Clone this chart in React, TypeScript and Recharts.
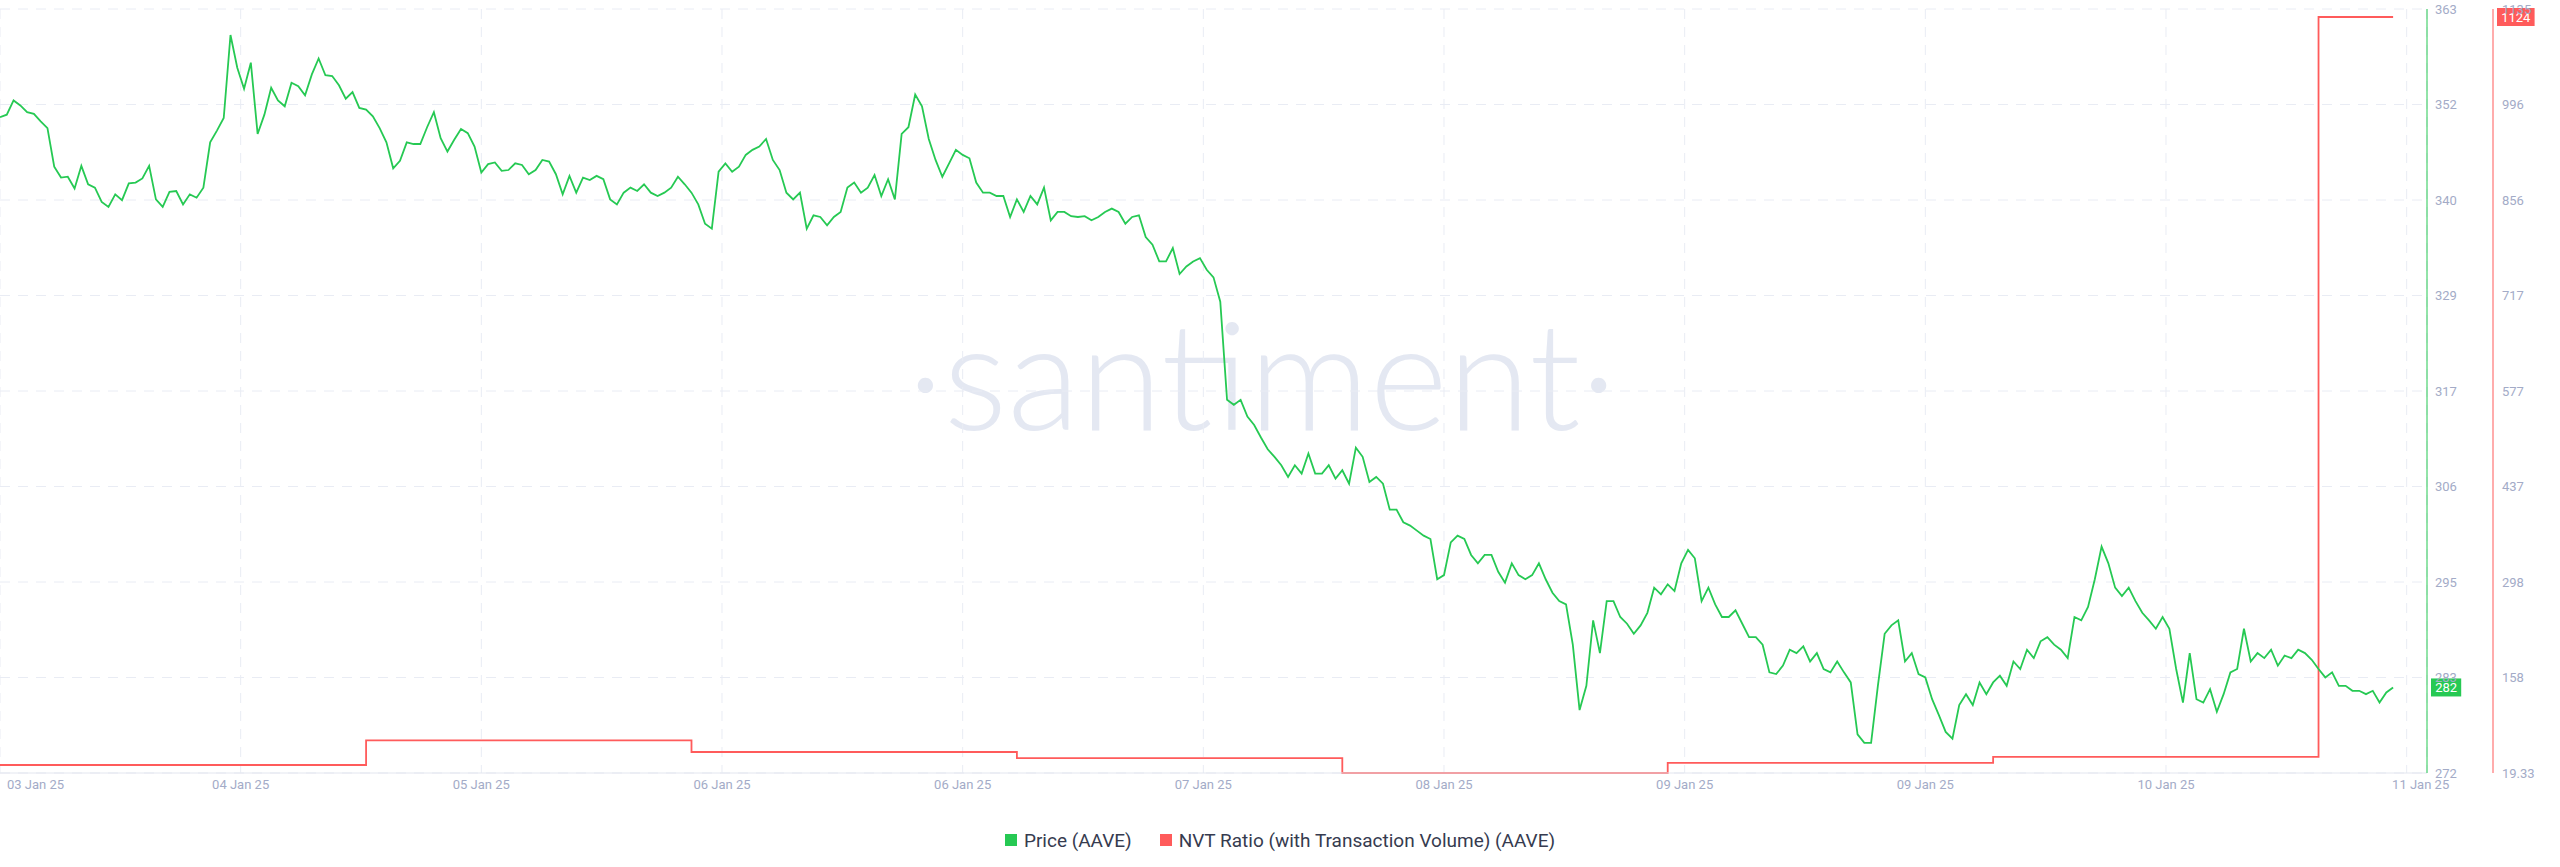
import React from "react"
import {
  CartesianGrid,
  Legend,
  Line,
  LineChart,
  ReferenceLine,
  XAxis,
  YAxis,
} from "recharts"

// hours since 03 Jan 21:00, one price sample every half hour
const priceStepHours = 0.5
const price = [
  350.0, 350.3, 352.0, 351.4, 350.6, 350.4, 349.5, 348.7, 344.1, 342.8,
  342.9, 341.5, 344.2, 342.0, 341.6, 339.9, 339.3, 340.8, 340.1, 342.1,
  342.2, 342.7, 344.2, 340.2, 339.3, 341.1, 341.2, 339.6, 340.8, 340.4,
  341.6, 347.0, 348.4, 349.9, 359.8, 355.9, 353.4, 356.5, 348.0, 350.3,
  353.5, 352.0, 351.3, 354.1, 353.7, 352.6, 355.1, 357.0, 355.0, 354.9,
  353.8, 352.2, 353.0, 351.1, 350.9, 350.1, 348.7, 347.0, 343.9, 344.8,
  347.0, 346.8, 346.8, 348.8, 350.6, 347.5, 345.9, 347.3, 348.6, 348.1,
  346.5, 343.4, 344.4, 344.6, 343.6, 343.7, 344.5, 344.3, 343.2, 343.7,
  344.9, 344.7, 343.2, 340.8, 343.0, 341.0, 342.8, 342.5, 343.0,
  342.6, 340.2, 339.6, 341.0, 341.6, 341.2, 342.0, 341.0, 340.6, 341.0,
  341.6, 342.9, 342.0, 341.0, 339.6, 337.3, 336.7, 343.5, 344.5, 343.5,
  344.1, 345.5, 346.1, 346.5, 347.4, 344.9, 343.7, 341.0, 340.2, 341.0,
  336.7, 338.3, 338.1, 337.1, 338.1, 338.7, 341.6, 342.2, 341.0, 341.6,
  343.1, 340.6, 342.6, 340.2, 348.0, 348.8, 352.7, 351.3, 347.4, 344.9,
  342.9, 344.5, 346.1, 345.5, 345.1, 342.2, 341.0, 341.0, 340.6, 340.6,
  338.1, 340.2, 338.7, 340.6, 339.6, 341.6, 337.7, 338.7, 338.7, 338.2,
  338.1, 338.2, 337.7, 338.1, 338.7, 339.1, 338.7, 337.3, 338.1, 338.3,
  335.7, 334.8, 332.8, 332.8, 334.4, 331.3, 332.2, 332.8, 333.2, 331.8,
  330.9, 328.0, 316.3, 315.7, 316.3, 314.3, 313.3, 311.8, 310.4, 309.5,
  308.5, 307.1, 308.5, 307.5, 309.9, 307.5, 307.5, 308.5, 306.9, 307.9,
  306.3, 310.6, 309.5, 306.5, 307.1, 306.3, 303.2, 303.2, 301.7, 301.3,
  300.7, 300.1, 299.7, 294.9, 295.4, 299.3, 300.1, 299.7, 297.8, 296.8,
  297.8, 297.8, 295.8, 294.5, 296.8, 295.4, 294.9, 295.4, 296.8, 294.9,
  293.3, 292.3, 291.9, 287.1, 279.3, 282.2, 290.0, 286.1, 292.3, 292.3,
  290.4, 289.6, 288.4, 289.4, 290.9, 293.9, 293.1, 294.3, 293.5, 296.8,
  298.4, 297.4, 292.3, 293.9, 291.9, 290.4, 290.4, 291.2, 289.6, 288.0,
  288.0, 287.1, 283.8, 283.6, 284.6, 286.5, 286.1, 286.9, 285.1, 286.1,
  284.2, 283.8, 285.1, 283.8, 282.6, 276.4, 275.4, 275.4, 282.2, 288.4,
  289.4, 290.0, 285.1, 286.1, 283.6, 283.2, 280.6, 278.7, 276.7, 275.9,
  279.9, 281.2, 279.9, 282.6, 281.2, 282.6, 283.4, 282.2, 285.1, 284.2,
  286.5, 285.5, 287.5, 288.0, 287.1, 286.5, 285.5, 290.4, 290.0, 291.6,
  294.9, 298.8, 296.8, 293.9, 292.9, 293.9, 292.3, 290.9, 290.0, 289.0,
  290.4, 289.0, 284.2, 280.2, 286.1, 280.6, 280.2, 281.8, 279.1, 281.2,
  283.8, 284.2, 289.0, 285.1, 286.1, 285.5, 286.5, 284.6, 285.8, 285.5,
  286.5, 286.1, 285.3, 284.2, 283.2, 283.8, 282.2, 282.2, 281.6, 281.6,
  281.2, 281.6, 280.2, 281.4, 282.0,
]

// NVT is daily, drawn as a step line
const nvtHours = [0, 27, 51, 75, 99, 123, 147, 171, 176.5]
const nvt = [31, 67, 50, 41, 19.33, 34, 43, 1124, 1124]

const xTickHours = [0, 17.75, 35.5, 53.25, 71, 88.75, 106.5, 124.25, 142, 159.75, 177.5]
const xTickLabels = [
  "03 Jan 25", "04 Jan 25", "05 Jan 25", "06 Jan 25", "06 Jan 25", "07 Jan 25",
  "08 Jan 25", "09 Jan 25", "09 Jan 25", "10 Jan 25", "11 Jan 25",
]

const priceDomain = [271.8, 362.9]
const priceTickLabels = ["272", "283", "295", "306", "317", "329", "340", "352", "363"]
const nvtDomain = [19.33, 1135.69]
const nvtTickLabels = ["19.33", "158", "298", "437", "577", "717", "856", "996", "1135"]

const GREEN = "#26c953"
const RED = "#ff5b5b"
const GREY = "#a3abc7"
const FONT = "Roboto, 'Noto Sans', sans-serif"

// right axes are stacked by id, so the ids keep price next to the plot
const PRICE_AXIS = "a-price"
const NVT_AXIS = "b-nvt"

const evenTicks = ([lo, hi]: number[], n: number) =>
  Array.from({ length: n }, (_, i) => lo + (i * (hi - lo)) / (n - 1))

const data = price.map((p, i) => {
  const t = i * priceStepHours
  const k = nvtHours.indexOf(t)
  return { t, price: p, nvt: k >= 0 ? nvt[k] : null }
})
// last nvt point falls on the last price sample
data[data.length - 1].nvt = nvt[nvt.length - 1]

const XTick = (props: any) => {
  const { x, y, payload, index } = props
  const last = index === xTickLabels.length - 1
  const anchor = index === 0 ? "start" : "middle"
  const dx = index === 0 ? 7 : last ? 14 : 0
  return (
    <text x={x + dx} y={y} dy="0.71em" textAnchor={anchor} fill={GREY} fontSize={13} fontFamily={FONT}>
      {xTickLabels[index] ?? payload.value}
    </text>
  )
}

const Badge = (props: any) => {
  const { viewBox, text, fill, shift } = props
  if (!viewBox) return null
  const w = text.length * 7.4 + 8
  const bx = viewBox.x + viewBox.width + shift + 4
  return (
    <g>
      <rect x={bx} y={viewBox.y - 9} width={w} height={18} fill={fill} />
      <text x={bx + w / 2} y={viewBox.y} dy="0.36em" textAnchor="middle" fill="#fff" fontSize={13} fontFamily={FONT}>
        {text}
      </text>
    </g>
  )
}

const legendItems = [
  { name: "Price (AAVE)", color: GREEN },
  { name: "NVT Ratio (with Transaction Volume) (AAVE)", color: RED },
]

const renderLegend = () => (
  <div
    style={{
      display: "flex",
      justifyContent: "center",
      alignItems: "center",
      gap: 28,
      height: 64,
      paddingTop: 10,
      boxSizing: "border-box",
      fontFamily: FONT,
      fontSize: 19,
      color: "#363b4f",
    }}
  >
    {legendItems.map((item) => (
      <div key={item.name} style={{ display: "flex", alignItems: "center", gap: 7 }}>
        <span style={{ width: 12, height: 12, background: item.color, display: "inline-block" }} />
        <span>{item.name}</span>
      </div>
    ))}
  </div>
)

export default function App() {
  const lastPrice = price[price.length - 1]
  const lastNvt = nvt[nvt.length - 1]
  return (
    <div style={{ position: "absolute", left: 0, top: 0, width: 2560, height: 867, fontFamily: FONT }}>
      <div
        style={{
          position: "absolute",
          left: 1262,
          top: 372,
          transform: "translate(-50%, -50%)",
          fontFamily: "Lato, sans-serif",
          fontWeight: 300,
          fontSize: 150,
          color: "#e4e8f2",
          whiteSpace: "nowrap",
          lineHeight: 1,
        }}
      >
        ·santiment·
      </div>
      <div style={{ position: "absolute", left: 0, top: 0 }}>
        <LineChart width={2560} height={867} data={data} margin={{ top: 9, right: 0, bottom: 0, left: 0 }}>
          <CartesianGrid yAxisId={PRICE_AXIS} stroke="#e9ecf4" strokeDasharray="10 8" />
          <XAxis
            dataKey="t"
            type="number"
            domain={[0, 179]}
            ticks={xTickHours}
            interval={0}
            height={30}
            tickLine={false}
            tickSize={0}
            tickMargin={7}
            axisLine={{ stroke: "#e3e6ef" }}
            tick={<XTick />}
          />
          <YAxis
            yAxisId={PRICE_AXIS}
            orientation="right"
            domain={priceDomain}
            ticks={evenTicks(priceDomain, 9)}
            interval={0}
            width={66}
            tickLine={false}
            tickSize={0}
            tickMargin={8}
            axisLine={{ stroke: GREEN }}
            tick={{ fill: GREY, fontSize: 13, textAnchor: "start" }}
            tickFormatter={(_v: number, i: number) => priceTickLabels[i]}
          />
          <YAxis
            yAxisId={NVT_AXIS}
            orientation="right"
            domain={nvtDomain}
            ticks={evenTicks(nvtDomain, 9)}
            interval={0}
            width={67}
            tickLine={false}
            tickSize={0}
            tickMargin={9}
            axisLine={{ stroke: RED }}
            tick={{ fill: GREY, fontSize: 13, textAnchor: "start" }}
            tickFormatter={(_v: number, i: number) => nvtTickLabels[i]}
          />
          <Legend verticalAlign="bottom" align="center" height={64} content={renderLegend} />
          <Line
            yAxisId={NVT_AXIS}
            dataKey="nvt"
            type="stepAfter"
            stroke={RED}
            strokeWidth={1.8}
            dot={false}
            connectNulls
            isAnimationActive={false}
          />
          <Line
            yAxisId={PRICE_AXIS}
            dataKey="price"
            type="linear"
            stroke={GREEN}
            strokeWidth={1.8}
            dot={false}
            isAnimationActive={false}
          />
          <ReferenceLine
            yAxisId={PRICE_AXIS}
            y={lastPrice}
            stroke="none"
            label={<Badge text={String(Math.round(lastPrice))} fill={GREEN} shift={0} />}
          />
          <ReferenceLine
            yAxisId={NVT_AXIS}
            y={lastNvt}
            stroke="none"
            label={<Badge text={String(lastNvt)} fill={RED} shift={66} />}
          />
        </LineChart>
      </div>
    </div>
  )
}
